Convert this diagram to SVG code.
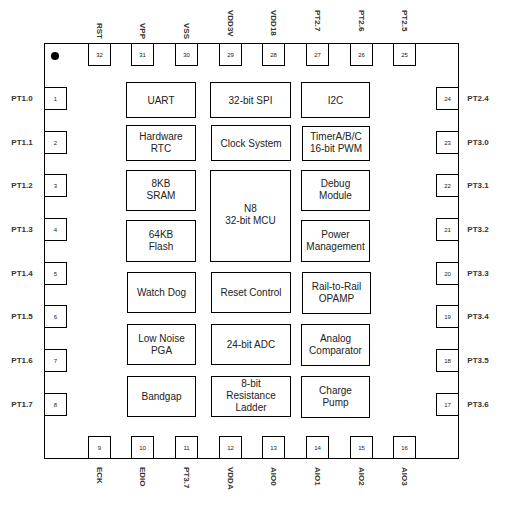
<svg xmlns="http://www.w3.org/2000/svg" width="506" height="506" viewBox="0 0 506 506">
<style>
.chip{fill:#fff;stroke:#000;stroke-width:1}
.pin{fill:#fff;stroke:#000;stroke-width:1}
.blk{fill:#fff;stroke:#000;stroke-width:1}
.pn{font-family:"Liberation Sans",Arial,sans-serif;font-size:6px;fill:#222;text-anchor:middle}
.pl{font-family:"Liberation Sans",Arial,sans-serif;font-size:8px;fill:#333;font-weight:bold}
.bt{font-family:"Liberation Sans",Arial,sans-serif;font-size:10px;fill:#222;text-anchor:middle}
</style>
<rect width="506" height="506" fill="#fff"/>
<g id="chip">
<rect class="chip" x="44.5" y="43.5" width="414" height="415"/>
<circle cx="55" cy="56" r="4" fill="#000"/>
</g>
<g id="connectors"></g>
<!-- Left pins -->
<g id="pin1"><rect class="pin" x="44.5" y="87.5" width="22" height="22"/><text class="pn" x="55.5" y="100.5">1</text><text class="pl" x="22" y="101" text-anchor="middle">PT1.0</text></g>
<g id="pin2"><rect class="pin" x="44.5" y="131.5" width="22" height="22"/><text class="pn" x="55.5" y="144.5">2</text><text class="pl" x="22" y="145" text-anchor="middle">PT1.1</text></g>
<g id="pin3"><rect class="pin" x="44.5" y="174.5" width="22" height="22"/><text class="pn" x="55.5" y="187.5">3</text><text class="pl" x="22" y="188" text-anchor="middle">PT1.2</text></g>
<g id="pin4"><rect class="pin" x="44.5" y="218.5" width="22" height="22"/><text class="pn" x="55.5" y="231.5">4</text><text class="pl" x="22" y="232" text-anchor="middle">PT1.3</text></g>
<g id="pin5"><rect class="pin" x="44.5" y="262.5" width="22" height="22"/><text class="pn" x="55.5" y="275.5">5</text><text class="pl" x="22" y="276" text-anchor="middle">PT1.4</text></g>
<g id="pin6"><rect class="pin" x="44.5" y="305.5" width="22" height="22"/><text class="pn" x="55.5" y="318.5">6</text><text class="pl" x="22" y="319" text-anchor="middle">PT1.5</text></g>
<g id="pin7"><rect class="pin" x="44.5" y="349.5" width="22" height="22"/><text class="pn" x="55.5" y="362.5">7</text><text class="pl" x="22" y="363" text-anchor="middle">PT1.6</text></g>
<g id="pin8"><rect class="pin" x="44.5" y="393.5" width="22" height="22"/><text class="pn" x="55.5" y="406.5">8</text><text class="pl" x="22" y="407" text-anchor="middle">PT1.7</text></g>
<!-- Right pins -->
<g id="pin24"><rect class="pin" x="436.5" y="87.5" width="22" height="22"/><text class="pn" x="447.5" y="100.5">24</text><text class="pl" x="478" y="101" text-anchor="middle">PT2.4</text></g>
<g id="pin23"><rect class="pin" x="436.5" y="131.5" width="22" height="22"/><text class="pn" x="447.5" y="144.5">23</text><text class="pl" x="478" y="145" text-anchor="middle">PT3.0</text></g>
<g id="pin22"><rect class="pin" x="436.5" y="174.5" width="22" height="22"/><text class="pn" x="447.5" y="187.5">22</text><text class="pl" x="478" y="188" text-anchor="middle">PT3.1</text></g>
<g id="pin21"><rect class="pin" x="436.5" y="218.5" width="22" height="22"/><text class="pn" x="447.5" y="231.5">21</text><text class="pl" x="478" y="232" text-anchor="middle">PT3.2</text></g>
<g id="pin20"><rect class="pin" x="436.5" y="262.5" width="22" height="22"/><text class="pn" x="447.5" y="275.5">20</text><text class="pl" x="478" y="276" text-anchor="middle">PT3.3</text></g>
<g id="pin19"><rect class="pin" x="436.5" y="305.5" width="22" height="22"/><text class="pn" x="447.5" y="318.5">19</text><text class="pl" x="478" y="319" text-anchor="middle">PT3.4</text></g>
<g id="pin18"><rect class="pin" x="436.5" y="349.5" width="22" height="22"/><text class="pn" x="447.5" y="362.5">18</text><text class="pl" x="478" y="363" text-anchor="middle">PT3.5</text></g>
<g id="pin17"><rect class="pin" x="436.5" y="393.5" width="22" height="22"/><text class="pn" x="447.5" y="406.5">17</text><text class="pl" x="478" y="407" text-anchor="middle">PT3.6</text></g>
<!-- Top pins -->
<g id="pin32"><rect class="pin" x="88.5" y="43.5" width="22" height="22"/><text class="pn" x="99.5" y="56.5">32</text><text class="pl" transform="translate(96.5,23) rotate(90)">RST</text></g>
<g id="pin31"><rect class="pin" x="131.5" y="43.5" width="22" height="22"/><text class="pn" x="142.5" y="56.5">31</text><text class="pl" transform="translate(139.5,23) rotate(90)">VPP</text></g>
<g id="pin30"><rect class="pin" x="175.5" y="43.5" width="22" height="22"/><text class="pn" x="186.5" y="56.5">30</text><text class="pl" transform="translate(183.5,23) rotate(90)">VSS</text></g>
<g id="pin29"><rect class="pin" x="219.5" y="43.5" width="22" height="22"/><text class="pn" x="230.5" y="56.5">29</text><text class="pl" transform="translate(227.5,10) rotate(90)">VDD3V</text></g>
<g id="pin28"><rect class="pin" x="262.5" y="43.5" width="22" height="22"/><text class="pn" x="273.5" y="56.5">28</text><text class="pl" transform="translate(270.5,10) rotate(90)">VDD18</text></g>
<g id="pin27"><rect class="pin" x="306.5" y="43.5" width="22" height="22"/><text class="pn" x="317.5" y="56.5">27</text><text class="pl" transform="translate(314.5,10) rotate(90)">PT2.7</text></g>
<g id="pin26"><rect class="pin" x="350.5" y="43.5" width="22" height="22"/><text class="pn" x="361.5" y="56.5">26</text><text class="pl" transform="translate(358.5,10) rotate(90)">PT2.6</text></g>
<g id="pin25"><rect class="pin" x="393.5" y="43.5" width="22" height="22"/><text class="pn" x="404.5" y="56.5">25</text><text class="pl" transform="translate(401.5,10) rotate(90)">PT2.5</text></g>
<!-- Bottom pins -->
<g id="pin9"><rect class="pin" x="88.5" y="436.5" width="22" height="22"/><text class="pn" x="99.5" y="449.5">9</text><text class="pl" transform="translate(96.5,467) rotate(90)">ECK</text></g>
<g id="pin10"><rect class="pin" x="131.5" y="436.5" width="22" height="22"/><text class="pn" x="142.5" y="449.5">10</text><text class="pl" transform="translate(139.5,467) rotate(90)">EDIO</text></g>
<g id="pin11"><rect class="pin" x="175.5" y="436.5" width="22" height="22"/><text class="pn" x="186.5" y="449.5">11</text><text class="pl" transform="translate(183.5,467) rotate(90)">PT3.7</text></g>
<g id="pin12"><rect class="pin" x="219.5" y="436.5" width="22" height="22"/><text class="pn" x="230.5" y="449.5">12</text><text class="pl" transform="translate(227.5,467) rotate(90)">VDDA</text></g>
<g id="pin13"><rect class="pin" x="262.5" y="436.5" width="22" height="22"/><text class="pn" x="273.5" y="449.5">13</text><text class="pl" transform="translate(270.5,467) rotate(90)">AIO0</text></g>
<g id="pin14"><rect class="pin" x="306.5" y="436.5" width="22" height="22"/><text class="pn" x="317.5" y="449.5">14</text><text class="pl" transform="translate(314.5,467) rotate(90)">AIO1</text></g>
<g id="pin15"><rect class="pin" x="350.5" y="436.5" width="22" height="22"/><text class="pn" x="361.5" y="449.5">15</text><text class="pl" transform="translate(358.5,467) rotate(90)">AIO2</text></g>
<g id="pin16"><rect class="pin" x="393.5" y="436.5" width="22" height="22"/><text class="pn" x="404.5" y="449.5">16</text><text class="pl" transform="translate(401.5,467) rotate(90)">AIO3</text></g>
<!-- Blocks -->
<g id="uart"><rect class="blk" x="126.5" y="82.5" width="69" height="35"/><text class="bt" x="161" y="103.5">UART</text></g>
<g id="spi"><rect class="blk" x="210.5" y="82.5" width="80" height="35"/><text class="bt" x="250.5" y="103.5">32-bit SPI</text></g>
<g id="i2c"><rect class="blk" x="301.5" y="82.5" width="68" height="35"/><text class="bt" x="335.5" y="103.5">I2C</text></g>
<g id="rtc"><rect class="blk" x="126.5" y="125.5" width="69" height="35"/><text class="bt" x="161" y="139.5">Hardware</text><text class="bt" x="161" y="151.5">RTC</text></g>
<g id="clock"><rect class="blk" x="211.5" y="125.5" width="79" height="35"/><text class="bt" x="251" y="146.5">Clock System</text></g>
<g id="timer"><rect class="blk" x="302.5" y="126.5" width="67" height="34"/><text class="bt" x="336" y="139.5">TimerA/B/C</text><text class="bt" x="336" y="151.5">16-bit PWM</text></g>
<g id="sram"><rect class="blk" x="126.5" y="170.5" width="69" height="40"/><text class="bt" x="161" y="187">8KB</text><text class="bt" x="161" y="199">SRAM</text></g>
<g id="mcu"><rect class="blk" x="210.5" y="170.5" width="80" height="91"/><text class="bt" x="250.5" y="211.5">N8</text><text class="bt" x="250.5" y="223.5">32-bit MCU</text></g>
<g id="debug"><rect class="blk" x="301.5" y="170.5" width="68" height="40"/><text class="bt" x="335.5" y="187">Debug</text><text class="bt" x="335.5" y="199">Module</text></g>
<g id="flash"><rect class="blk" x="126.5" y="220.5" width="69" height="41"/><text class="bt" x="161" y="237.5">64KB</text><text class="bt" x="161" y="249.5">Flash</text></g>
<g id="power"><rect class="blk" x="301.5" y="220.5" width="68" height="41"/><text class="bt" x="335.5" y="237.5">Power</text><text class="bt" x="335.5" y="249.5">Management</text></g>
<g id="wdog"><rect class="blk" x="127.5" y="272.5" width="68" height="40"/><text class="bt" x="161.5" y="296">Watch Dog</text></g>
<g id="reset"><rect class="blk" x="211.5" y="272.5" width="79" height="40"/><text class="bt" x="251" y="296">Reset Control</text></g>
<g id="opamp"><rect class="blk" x="302.5" y="272.5" width="68" height="41"/><text class="bt" x="336.5" y="289.5">Rail-to-Rail</text><text class="bt" x="336.5" y="301.5">OPAMP</text></g>
<g id="pga"><rect class="blk" x="127.5" y="324.5" width="68" height="40"/><text class="bt" x="161.5" y="341.5">Low Noise</text><text class="bt" x="161.5" y="353.5">PGA</text></g>
<g id="adc"><rect class="blk" x="211.5" y="324.5" width="79" height="40"/><text class="bt" x="251" y="347.5">24-bit ADC</text></g>
<g id="comp"><rect class="blk" x="301.5" y="324.5" width="68" height="41"/><text class="bt" x="335.5" y="341.5">Analog</text><text class="bt" x="335.5" y="353.5">Comparator</text></g>
<g id="bandgap"><rect class="blk" x="127.5" y="376.5" width="68" height="40"/><text class="bt" x="161.5" y="399.5">Bandgap</text></g>
<g id="ladder"><rect class="blk" x="211.5" y="376.5" width="79" height="40"/><text class="bt" x="251" y="387">8-bit</text><text class="bt" x="251" y="399">Resistance</text><text class="bt" x="251" y="411">Ladder</text></g>
<g id="pump"><rect class="blk" x="301.5" y="376.5" width="68" height="41"/><text class="bt" x="335.5" y="393.5">Charge</text><text class="bt" x="335.5" y="405.5">Pump</text></g>
</svg>
